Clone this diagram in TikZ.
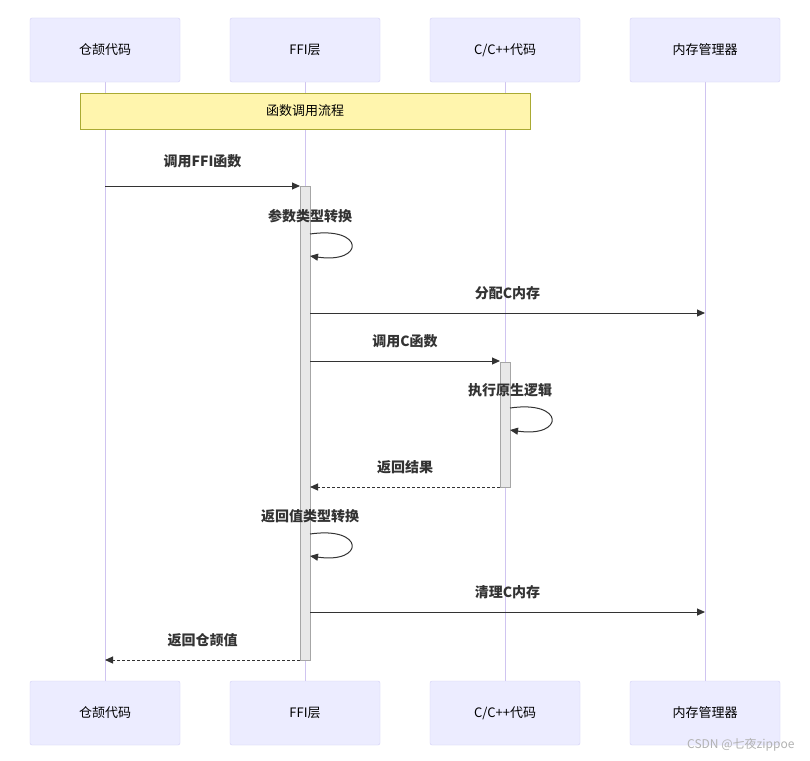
\documentclass[tikz,border=0pt]{standalone}
\usepackage{fontspec}
\setmainfont{Noto Sans CJK SC}
\usetikzlibrary{arrows.meta}
\definecolor{boxf}{HTML}{ECECFF}
\definecolor{boxd}{HTML}{D4CFF5}
\definecolor{life}{HTML}{CFC4F0}
\definecolor{notef}{HTML}{FFF5AD}
\definecolor{noted}{HTML}{AAAA33}
\definecolor{ink}{HTML}{333333}
\begin{document}
\begin{tikzpicture}[x=1pt,y=-1pt,
  part/.style={draw=boxd,fill=boxf,rounded corners=2pt,minimum width=150pt,minimum height=64pt,font=\fontsize{13}{15}\selectfont,text=black},
  life/.style={draw=life,line width=1pt},
  act/.style={draw=gray!70,fill=gray!18,line width=0.8pt},
  msg/.style={draw=ink,line width=1pt,-{Triangle[length=8pt,width=7pt]}},
  ret/.style={msg,dashed,dash pattern=on 3pt off 2pt},
  lab/.style={font=\bfseries\fontsize{14}{16}\selectfont,text=ink}]
\useasboundingbox (0,0) rectangle (810,760);
\fill[white] (0,0) rectangle (810,760);
\foreach \n/\x/\t in {a/105/仓颉代码,b/305/FFI层,c/505/{C/C++代码},d/705/内存管理器}{
  \draw[life] (\x,82) -- (\x,681);
  \node[part] (\n1) at (\x,50) {\t};
  \node[part] (\n2) at (\x,713) {\t};
}
\node[draw=noted,fill=notef,minimum width=450pt,minimum height=36pt,font=\fontsize{13}{15}\selectfont] (note) at (305,111) {函数调用流程};
\draw[act] (300,186) rectangle (310,660);
\draw[act] (500,362) rectangle (510,487);
\coordinate (m1s) at (105,186); \coordinate (m1e) at (300,186);
\draw[msg] (m1s) -- (m1e) node[lab,midway,above=14pt] {调用FFI函数};
\coordinate (l1a) at (310,234); \coordinate (l1b) at (310,256);
\node[lab] (t1) at (310,216) {参数类型转换};
\draw[msg] (l1a) .. controls (365,226) and (365,264) .. (l1b);
\coordinate (m2s) at (310,313); \coordinate (m2e) at (705,313);
\draw[msg] (m2s) -- (m2e) node[lab,midway,above=9pt] {分配C内存};
\coordinate (m3s) at (310,361); \coordinate (m3e) at (500,361);
\draw[msg] (m3s) -- (m3e) node[lab,midway,above=9pt] {调用C函数};
\coordinate (l2a) at (510,408); \coordinate (l2b) at (510,430);
\node[lab] (t2) at (510,390) {执行原生逻辑};
\draw[msg] (l2a) .. controls (565,400) and (565,438) .. (l2b);
\coordinate (m4s) at (500,487); \coordinate (m4e) at (310,487);
\draw[ret] (m4s) -- (m4e) node[lab,midway,above=9pt] {返回结果};
\coordinate (l3a) at (310,534); \coordinate (l3b) at (310,556);
\node[lab] (t3) at (310,516) {返回值类型转换};
\draw[msg] (l3a) .. controls (365,526) and (365,564) .. (l3b);
\coordinate (m5s) at (310,612); \coordinate (m5e) at (705,612);
\draw[msg] (m5s) -- (m5e) node[lab,midway,above=9pt] {清理C内存};
\coordinate (m6s) at (300,660); \coordinate (m6e) at (105,660);
\draw[ret] (m6s) -- (m6e) node[lab,midway,above=9pt] {返回仓颉值};
\node[text=gray!60,font=\fontsize{12}{14}\selectfont,anchor=east] (wm) at (798,745) {CSDN @七夜zippoe};
\end{tikzpicture}
\end{document}
